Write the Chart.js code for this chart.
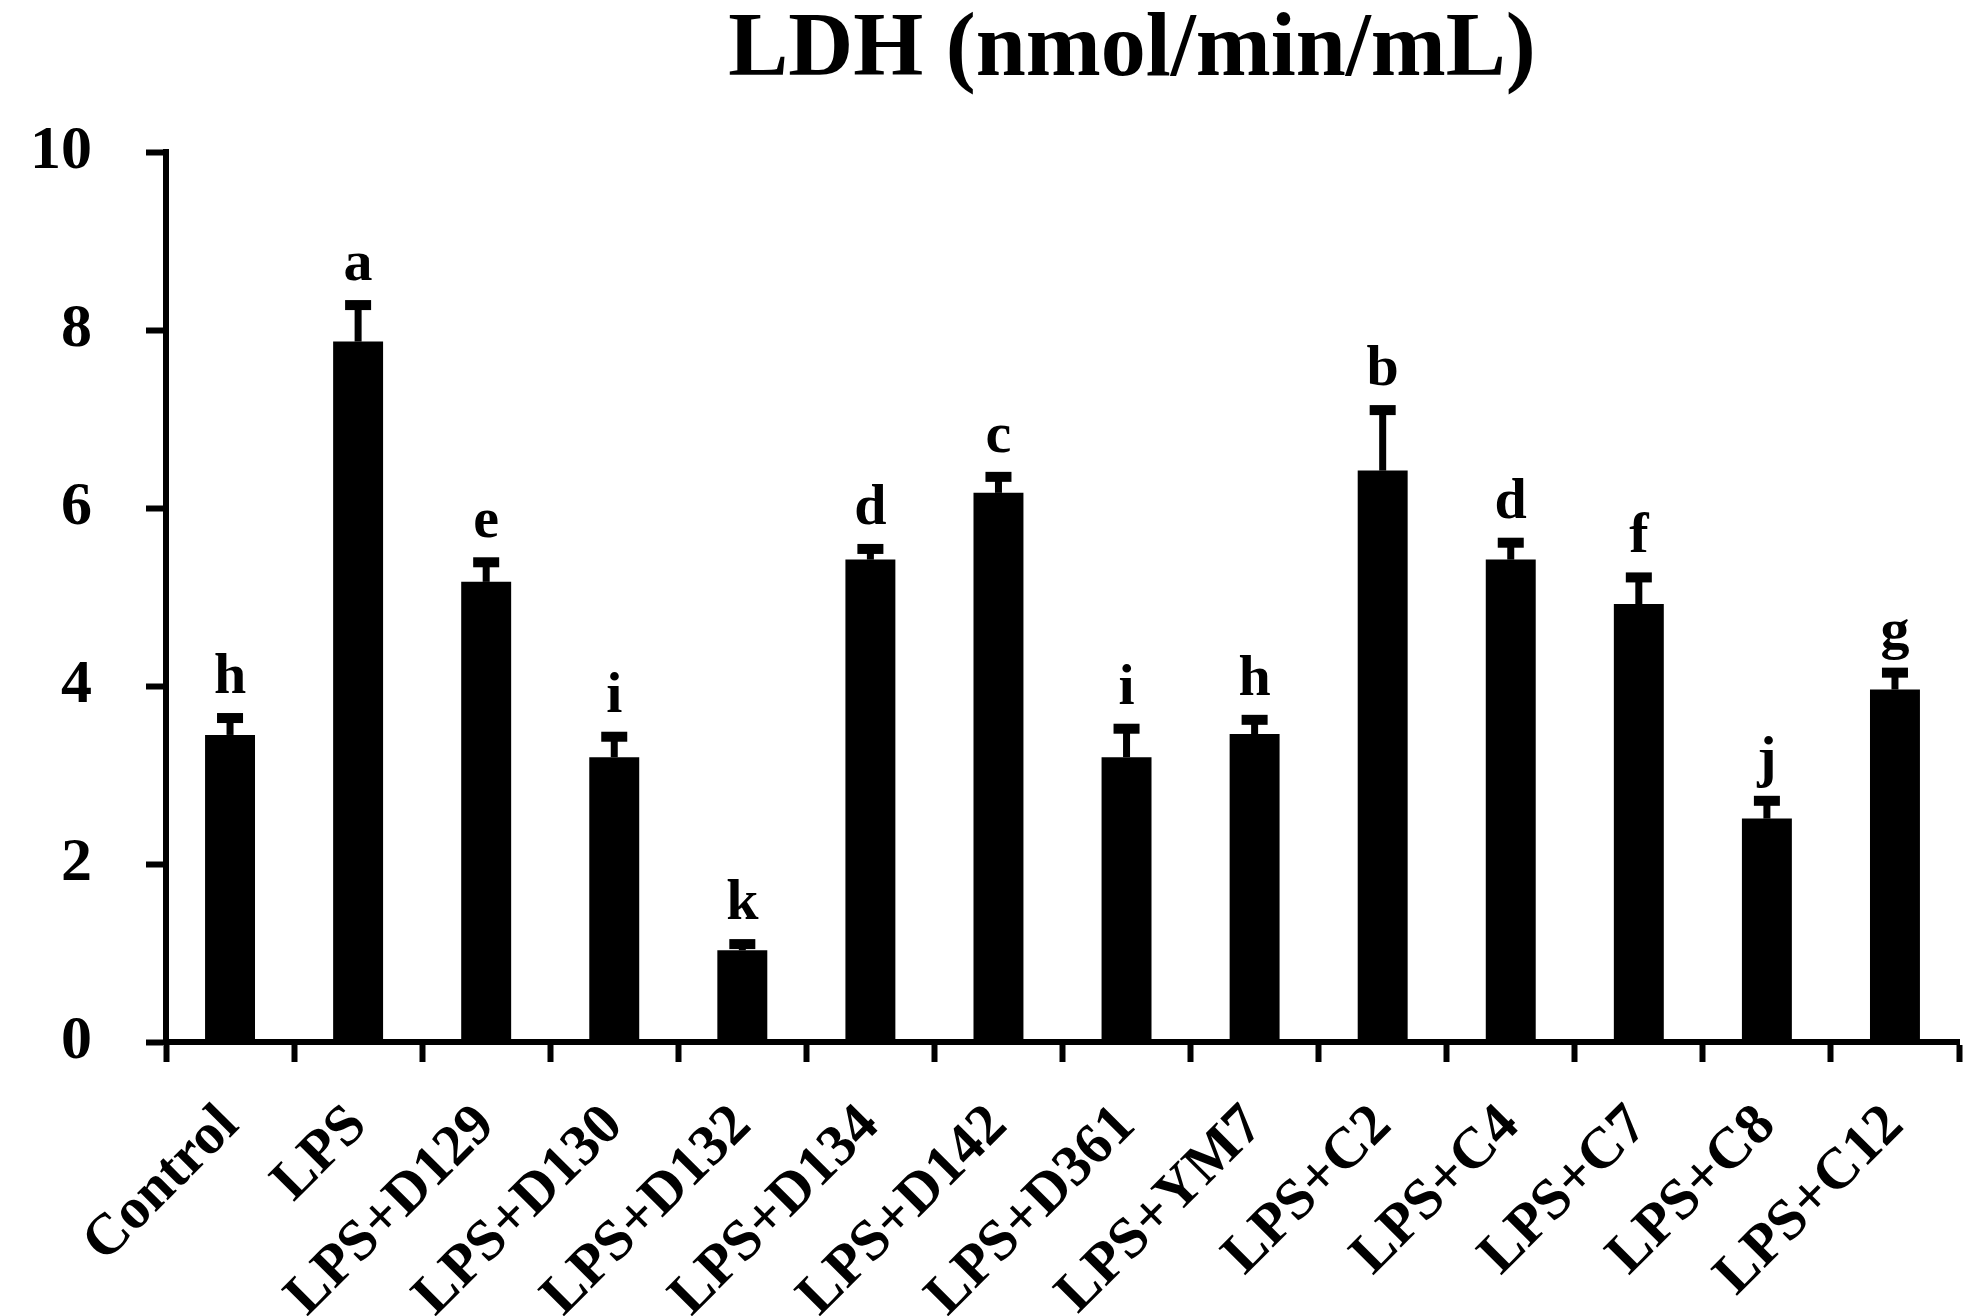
<!DOCTYPE html>
<html lang="en">
<head>
  <meta charset="UTF-8">
  <title>LDH (nmol/min/mL)</title>
  <script src="https://cdn.jsdelivr.net/npm/chart.js"></script>
  <style>
    html, body { margin: 0; padding: 0; background: #fff; }
    #wrap { width: 1981px; height: 1316px; position: relative; }
  </style>
</head>
<body>
<div id="wrap">
  <canvas id="grafico"></canvas>
</div>

<script>
  const grupos = ['Control', 'LPS', 'LPS+D129', 'LPS+D130', 'LPS+D132', 'LPS+D134', 'LPS+D142',
                  'LPS+D361', 'LPS+YM7', 'LPS+C2', 'LPS+C4', 'LPS+C7', 'LPS+C8', 'LPS+C12'];
  const medias = [3.45, 7.87, 5.17, 3.20, 1.03, 5.42, 6.17, 3.20, 3.46, 6.42, 5.42, 4.92, 2.51, 3.96];
  const errores = [0.19, 0.41, 0.22, 0.23, 0.07, 0.12, 0.18, 0.32, 0.16, 0.68, 0.19, 0.30, 0.20, 0.19];
  const letras = ['h', 'a', 'e', 'i', 'k', 'd', 'c', 'i', 'h', 'b', 'd', 'f', 'j', 'g'];
  const ticksY = [0, 2, 4, 6, 8, 10];

  const fuente = '"Liberation Serif", "Times New Roman", serif';

  // barras de error + letras de significancia
  const errorBars = {
    id: 'errorBars',
    afterDatasetsDraw(chart) {
      const ctx = chart.ctx;
      const y = chart.scales.y;
      const meta = chart.getDatasetMeta(0);
      ctx.save();
      ctx.fillStyle = '#000';
      ctx.strokeStyle = '#000';
      meta.data.forEach((bar, i) => {
        const yBase = y.getPixelForValue(medias[i]);
        const yTop = y.getPixelForValue(medias[i] + errores[i]);
        ctx.lineWidth = 7;
        ctx.beginPath();
        ctx.moveTo(bar.x, yBase);
        ctx.lineTo(bar.x, yTop);
        ctx.stroke();
        ctx.fillRect(bar.x - 13, yTop - 5, 26, 10);

        ctx.font = 'bold 58px ' + fuente;
        ctx.textAlign = 'center';
        ctx.textBaseline = 'alphabetic';
        ctx.fillText(letras[i], bar.x, yTop - 25);
      });
      ctx.restore();
    }
  };

  const titulo = {
    id: 'titulo',
    afterDraw(chart) {
      const ctx = chart.ctx;
      ctx.save();
      ctx.fillStyle = '#000';
      ctx.font = 'bold 90px ' + fuente;
      ctx.textAlign = 'center';
      ctx.textBaseline = 'alphabetic';
      ctx.fillText('LDH (nmol/min/mL)', 1132, 75);
      ctx.restore();
    }
  };

  const ctx = document.getElementById('grafico').getContext('2d');
  new Chart(ctx, {
    type: 'bar',
    data: {
      labels: grupos,
      datasets: [{
        data: medias,
        backgroundColor: '#000',
        borderWidth: 0,
        barPercentage: 0.39,
        categoryPercentage: 1
      }]
    },
    options: {
      responsive: true,
      maintainAspectRatio: false,
      animation: false,
      layout: { padding: { top: 152, right: 22, left: 0, bottom: 0 } },
      plugins: {
        legend: { display: false },
        tooltip: { enabled: false }
      },
      scales: {
        x: {
          afterFit: (s) => { s.height = 274; },
          grid: {
            drawOnChartArea: false,
            offset: true,
            tickLength: 20,
            tickWidth: 6,
            tickColor: '#000'
          },
          border: { display: true, color: '#000', width: 6 },
          ticks: {
            color: '#000',
            autoSkip: false,
            minRotation: 45,
            maxRotation: 45,
            padding: 30,
            font: { family: fuente, size: 58, weight: 'bold' }
          }
        },
        y: {
          min: 0,
          max: 10,
          afterFit: (s) => { s.width = 166; },
          afterBuildTicks: (s) => { s.ticks = ticksY.map(v => ({ value: v })); },
          grid: {
            drawOnChartArea: false,
            tickLength: 20,
            tickWidth: 6,
            tickColor: '#000'
          },
          border: { display: true, color: '#000', width: 6 },
          ticks: {
            color: '#000',
            padding: 54,
            font: { family: fuente, size: 62, weight: 'bold' }
          }
        }
      }
    },
    plugins: [errorBars, titulo]
  });
</script>
</body>
</html>
